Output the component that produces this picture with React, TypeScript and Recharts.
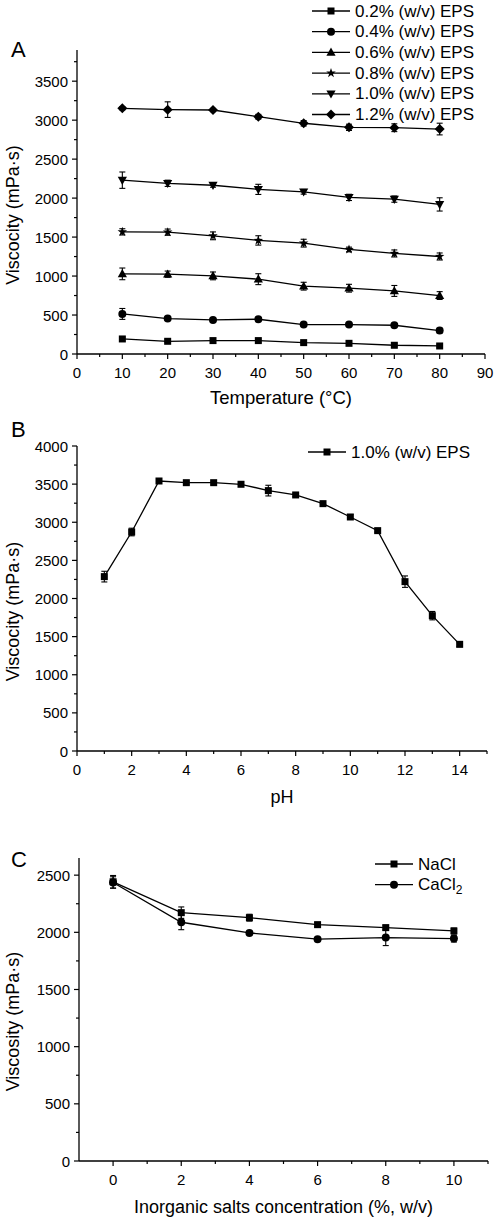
import React from 'react'
import { LineChart, Line, XAxis, YAxis, ErrorBar, Legend, Label } from 'recharts'

// Panel A: temperature effect
const temps = [10, 20, 30, 40, 50, 60, 70, 80]
const v02 = [193, 163, 172, 172, 146, 137, 112, 103]
const e02 = [25, 20, 20, 20, 15, 20, 20, 15]
const v04 = [514, 455, 437, 446, 377, 377, 369, 300]
const e04 = [70, 25, 20, 15, 15, 20, 15, 30]
const v06 = [1028, 1024, 1002, 960, 870, 844, 809, 750]
const e06 = [75, 40, 50, 70, 50, 50, 70, 50]
const v08 = [1567, 1563, 1516, 1457, 1422, 1341, 1290, 1251]
const e08 = [40, 40, 50, 60, 50, 30, 45, 45]
const v10 = [2230, 2190, 2165, 2112, 2081, 2009, 1987, 1919]
const e10 = [105, 40, 25, 65, 30, 40, 40, 85]
const v12 = [3152, 3135, 3130, 3044, 2960, 2908, 2903, 2886]
const e12 = [20, 100, 20, 30, 35, 40, 50, 75]
const tempTicksX = [0, 5, 10, 15, 20, 25, 30, 35, 40, 45, 50, 55, 60, 65, 70, 75, 80, 85, 90]
const tempTicksY = [0, 250, 500, 750, 1000, 1250, 1500, 1750, 2000, 2250, 2500, 2750, 3000, 3250, 3500, 3750]

// Panel B: pH effect
const phs = [1, 2, 3, 4, 5, 6, 7, 8, 9, 10, 11, 12, 13, 14]
const phVisc = [2287, 2872, 3541, 3519, 3519, 3498, 3415, 3358, 3244, 3069, 2890, 2221, 1775, 1399]
const phErr = [70, 50, 15, 20, 20, 25, 70, 20, 20, 30, 20, 75, 55, 30]
const phTicksX = [0, 1, 2, 3, 4, 5, 6, 7, 8, 9, 10, 11, 12, 13, 14, 15]
const phTicksY = [0, 250, 500, 750, 1000, 1250, 1500, 1750, 2000, 2250, 2500, 2750, 3000, 3250, 3500, 3750, 4000]

// Panel C: salts
const conc = [0, 2, 4, 6, 8, 10]
const nacl = [2442, 2172, 2128, 2067, 2041, 2012]
const naclErr = [55, 50, 30, 20, 20, 25]
const cacl = [2436, 2088, 1995, 1940, 1954, 1945]
const caclErr = [50, 65, 15, 15, 70, 30]
const saltTicksX = [0, 1, 2, 3, 4, 5, 6, 7, 8, 9, 10, 11]
const saltTicksY = [0, 250, 500, 750, 1000, 1250, 1500, 1750, 2000, 2250, 2500]

const tempSeries = [
  { key: 'v02', err: 'e02', name: '0.2% (w/v) EPS', shape: 'square' },
  { key: 'v04', err: 'e04', name: '0.4% (w/v) EPS', shape: 'circle' },
  { key: 'v06', err: 'e06', name: '0.6% (w/v) EPS', shape: 'triangle' },
  { key: 'v08', err: 'e08', name: '0.8% (w/v) EPS', shape: 'star' },
  { key: 'v10', err: 'e10', name: '1.0% (w/v) EPS', shape: 'triangleDown' },
  { key: 'v12', err: 'e12', name: '1.2% (w/v) EPS', shape: 'diamond' },
]

const tempData = temps.map((t, i) => ({
  t,
  v02: v02[i], e02: e02[i],
  v04: v04[i], e04: e04[i],
  v06: v06[i], e06: e06[i],
  v08: v08[i], e08: e08[i],
  v10: v10[i], e10: e10[i],
  v12: v12[i], e12: e12[i],
}))
const phData = phs.map((p, i) => ({ p, v: phVisc[i], e: phErr[i] }))
const saltData = conc.map((c, i) => ({ c, na: nacl[i], naE: naclErr[i], ca: cacl[i], caE: caclErr[i] }))

const FONT = '"Liberation Sans", Arial, sans-serif'

function Marker({ shape, cx, cy }: { shape: string; cx: number; cy: number }) {
  if (cx == null || cy == null) return null
  switch (shape) {
    case 'square':
      return <rect x={cx - 3.5} y={cy - 3.5} width={7} height={7} fill="#000" />
    case 'circle':
      return <circle cx={cx} cy={cy} r={4} fill="#000" />
    case 'triangle':
      return <path d={`M${cx},${cy - 4.8}L${cx + 4.6},${cy + 3.4}L${cx - 4.6},${cy + 3.4}Z`} fill="#000" />
    case 'triangleDown':
      return <path d={`M${cx},${cy + 4.8}L${cx + 4.6},${cy - 3.4}L${cx - 4.6},${cy - 3.4}Z`} fill="#000" />
    case 'diamond':
      return <path d={`M${cx},${cy - 5}L${cx + 5},${cy}L${cx},${cy + 5}L${cx - 5},${cy}Z`} fill="#000" />
    case 'star': {
      const pts: string[] = []
      for (let k = 0; k < 10; k++) {
        const r = k % 2 === 0 ? 5 : 2
        const a = -Math.PI / 2 + (k * Math.PI) / 5
        pts.push(`${cx + r * Math.cos(a)},${cy + r * Math.sin(a)}`)
      }
      return <polygon points={pts.join(' ')} fill="#000" />
    }
    default:
      return null
  }
}

const makeDot = (shape: string, id: string) => (p: any) => (
  <Marker key={`${id}-${p.index}`} shape={shape} cx={p.cx} cy={p.cy} />
)

const makeXTick = (every: number) => (props: any) => {
  const { x, y, payload } = props
  const v = payload.value
  const major = Math.abs(v % every) < 1e-9
  return (
    <g>
      <line x1={x} x2={x} y1={y} y2={y + (major ? 5 : 3)} stroke="#000" strokeWidth={1.2} />
      {major && (
        <text x={x} y={y + 18.5} textAnchor="middle" dominantBaseline="central" fontSize={15} fill="#000">
          {v}
        </text>
      )}
    </g>
  )
}

const makeYTick = (every: number) => (props: any) => {
  const { x, y, payload } = props
  const v = payload.value
  const major = v % every === 0
  return (
    <g>
      <line x1={x} x2={x - (major ? 5 : 3)} y1={y} y2={y} stroke="#000" strokeWidth={1.2} />
      {major && (
        <text x={x - 9} y={y} textAnchor="end" dominantBaseline="central" fontSize={15} fill="#000">
          {v}
        </text>
      )}
    </g>
  )
}

// rotated axis title plus the panel letter
const yTitle = (text: string, letter: string, dy: number, letterDy: number) => (props: any) => {
  const vb = props.viewBox
  const cy = vb.y + vb.height / 2 + dy
  return (
    <g>
      <text x={13} y={cy} transform={`rotate(-90 13 ${cy})`} textAnchor="middle" dominantBaseline="central" fontSize={18} fill="#000">
        {text}
      </text>
      <text x={11} y={vb.y + letterDy} fontSize={22} fill="#000">{letter}</text>
    </g>
  )
}

const xTitle = (text: React.ReactNode, dy: number, size = 18) => (props: any) => {
  const vb = props.viewBox
  return (
    <text x={vb.x + vb.width / 2} y={vb.y + dy} textAnchor="middle" dominantBaseline="central" fontSize={size} fill="#000">
      {text}
    </text>
  )
}

function LegendBlock({ items, gap, width }: { items: { name: React.ReactNode; shape: string }[]; gap: number; width: number }) {
  return (
    <svg width={width} height={items.length * gap + 4} style={{ display: 'block', fontFamily: FONT }}>
      {items.map((it, i) => {
        const cy = 10 + i * gap
        return (
          <g key={i}>
            <line x1={2} x2={40} y1={cy} y2={cy} stroke="#000" strokeWidth={1.3} />
            <Marker shape={it.shape} cx={21} cy={cy} />
            <text x={45} y={cy} dominantBaseline="central" fontSize={17} fill="#000">{it.name}</text>
          </g>
        )
      })}
    </svg>
  )
}

const axisLine = { stroke: '#000', strokeWidth: 1.3 }

export default function App() {
  return (
    <div style={{ position: 'absolute', left: 0, top: 0, width: 498, height: 1223, background: '#fff', fontFamily: FONT }}>
      <div style={{ position: 'absolute', left: 0, top: 0 }}>
        <LineChart width={498} height={410} data={tempData} margin={{ top: 50, right: 13, left: 17, bottom: 16 }}>
          <XAxis dataKey="t" type="number" domain={[0, 90]} ticks={tempTicksX} interval={0} height={40}
            tickSize={0} tickMargin={0} axisLine={axisLine} tickLine={false} tick={makeXTick(10)}>
            <Label content={xTitle('Temperature (°C)', 43, 18.5)} />
          </XAxis>
          <YAxis type="number" domain={[0, 3900]} ticks={tempTicksY} interval={0} width={60}
            tickSize={0} tickMargin={0} axisLine={axisLine} tickLine={false} tick={makeYTick(500)}>
            <Label content={yTitle('Viscocity (mPa·s)', 'A', 13, 7)} />
          </YAxis>
          <Legend layout="vertical" align="center" verticalAlign="middle"
            wrapperStyle={{ left: 310, top: 1, width: 188 }}
            content={() => <LegendBlock items={tempSeries} gap={20.7} width={188} />} />
          {tempSeries.map((s) => (
            <Line key={s.key} dataKey={s.key} name={s.name} stroke="#000" strokeWidth={1.3}
              dot={makeDot(s.shape, s.key)} activeDot={false} isAnimationActive={false}>
              <ErrorBar dataKey={s.err} width={3} stroke="#000" strokeWidth={1.1} />
            </Line>
          ))}
        </LineChart>
      </div>

      <div style={{ position: 'absolute', left: 0, top: 410 }}>
        <LineChart width={498} height={410} data={phData} margin={{ top: 36, right: 11, left: 17, bottom: 29 }}>
          <XAxis dataKey="p" type="number" domain={[0, 15]} ticks={phTicksX} interval={0} height={40}
            tickSize={0} tickMargin={0} axisLine={axisLine} tickLine={false} tick={makeXTick(2)}>
            <Label content={xTitle('pH', 45.5)} />
          </XAxis>
          <YAxis type="number" domain={[0, 4000]} ticks={phTicksY} interval={0} width={60}
            tickSize={0} tickMargin={0} axisLine={axisLine} tickLine={false} tick={makeYTick(500)}>
            <Label content={yTitle('Viscocity (mPa·s)', 'B', 13, -9)} />
          </YAxis>
          <Legend layout="vertical" align="center" verticalAlign="middle"
            wrapperStyle={{ left: 306, top: 32, width: 192 }}
            content={() => <LegendBlock items={[{ name: '1.0% (w/v) EPS', shape: 'square' }]} gap={20.7} width={192} />} />
          <Line dataKey="v" name="1.0% (w/v) EPS" stroke="#000" strokeWidth={1.3}
            dot={makeDot('square', 'ph')} activeDot={false} isAnimationActive={false}>
            <ErrorBar dataKey="e" width={3} stroke="#000" strokeWidth={1.1} />
          </Line>
        </LineChart>
      </div>

      <div style={{ position: 'absolute', left: 0, top: 820 }}>
        <LineChart width={498} height={403} data={saltData} margin={{ top: 38, right: 10, left: 19, bottom: 22 }}>
          <XAxis dataKey="c" type="number" domain={[-1, 11]} ticks={saltTicksX} interval={0} height={40}
            tickSize={0} tickMargin={0} axisLine={axisLine} tickLine={false} tick={makeXTick(2)}>
            <Label content={xTitle('Inorganic salts concentration (%, w/v)', 46)} />
          </XAxis>
          <YAxis type="number" domain={[0, 2650]} ticks={saltTicksY} interval={0} width={60}
            tickSize={0} tickMargin={0} axisLine={axisLine} tickLine={false} tick={makeYTick(500)}>
            <Label content={yTitle('Viscosity (mPa·s)', 'C', 12, 9)} />
          </YAxis>
          <Legend layout="vertical" align="center" verticalAlign="middle"
            wrapperStyle={{ left: 373, top: 34, width: 125 }}
            content={() => (
              <LegendBlock
                items={[
                  { name: 'NaCl', shape: 'square' },
                  { name: <>CaCl<tspan dy={5} fontSize={12}>2</tspan></>, shape: 'circle' },
                ]}
                gap={20.7}
                width={125}
              />
            )} />
          <Line dataKey="na" name="NaCl" stroke="#000" strokeWidth={1.3}
            dot={makeDot('square', 'na')} activeDot={false} isAnimationActive={false}>
            <ErrorBar dataKey="naE" width={3} stroke="#000" strokeWidth={1.1} />
          </Line>
          <Line dataKey="ca" name="CaCl2" stroke="#000" strokeWidth={1.3}
            dot={makeDot('circle', 'ca')} activeDot={false} isAnimationActive={false}>
            <ErrorBar dataKey="caE" width={3} stroke="#000" strokeWidth={1.1} />
          </Line>
        </LineChart>
      </div>
    </div>
  )
}
